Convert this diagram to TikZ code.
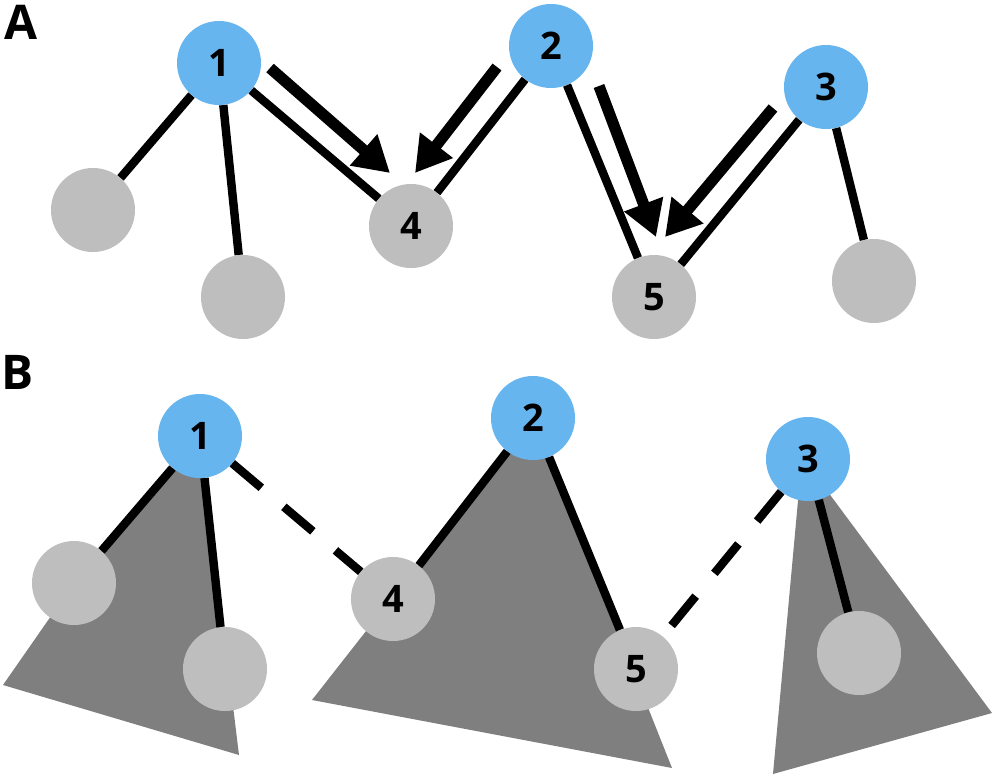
\documentclass[tikz,border=0pt]{standalone}
\usepackage{fontspec}
\setmainfont{Open Sans}
\usetikzlibrary{arrows.meta,backgrounds}
\definecolor{rootblue}{RGB}{103,181,238}
\definecolor{leafgray}{RGB}{190,190,190}
\definecolor{treegray}{RGB}{127,127,127}
\tikzset{
	treenode/.style = {circle, inner sep=0pt, minimum size=2.1cm, font=\fontsize{27}{27}\selectfont\bfseries},
	root/.style = {treenode, fill=rootblue},
	leaf/.style = {treenode, fill=leafgray},
	edge/.style = {line width=6pt},
	link/.style = {edge, dash pattern=on 27pt off 21pt},
	move/.style = {line width=8pt, -{Triangle[length=25pt,width=28pt]}},
	subtree/.style = {fill=treegray},
	panel/.style = {font=\fontsize{34}{34}\selectfont\bfseries}
}

\begin{document}
\begin{tikzpicture}[x=0.025cm, y=-0.025cm]
\useasboundingbox (0,0) rectangle (996,778);

% A
\node [panel] (la) at (21,22) {A};
\node [root] (a1) at (219,63) {1};
\node [root] (a2) at (551,46) {2};
\node [root] (a3) at (826,87) {3};
\node [leaf] (a1l) at (93,210) {};
\node [leaf] (a1r) at (243,297) {};
\node [leaf] (a4) at (411,226) {4};
\node [leaf] (a5) at (654,297) {5};
\node [leaf] (a3r) at (874,281) {};
\draw [edge] (a1) -- (a1l);
\draw [edge] (a1) -- (a1r);
\draw [edge] (a1) -- (a4);
\draw [edge] (a2) -- (a4);
\draw [edge] (a2) -- (a5);
\draw [edge] (a3) -- (a5);
\draw [edge] (a3) -- (a3r);
\coordinate (f14s) at (270,68);  \coordinate (f14e) at (390,173);
\coordinate (f24s) at (497,67);  \coordinate (f24e) at (415,173);
\coordinate (f25s) at (599,86);  \coordinate (f25e) at (656,237);
\coordinate (f35s) at (773,108); \coordinate (f35e) at (665,237);
\draw [move] (f14s) -- (f14e);
\draw [move] (f24s) -- (f24e);
\draw [move] (f25s) -- (f25e);
\draw [move] (f35s) -- (f35e);

% B
\node [panel] (lb) at (18,372) {B};
\node [root] (b1) at (200,436) {1};
\node [root] (b2) at (533,418) {2};
\node [root] (b3) at (808,459) {3};
\node [leaf] (b1l) at (74,583) {};
\node [leaf] (b1r) at (225,669) {};
\node [leaf] (b4) at (393,599) {4};
\node [leaf] (b5) at (636,669) {5};
\node [leaf] (b3r) at (859,653) {};
\begin{scope}[on background layer]
	\fill [subtree] (b1.center) -- (b1l.center) -- (3,685) -- (239,755) -- cycle;
	\fill [subtree] (b2.center) -- (312,700) -- (672,768) -- cycle;
	\fill [subtree] (802,457) -- (773,774) -- (992,713) -- cycle;
\end{scope}
\draw [edge] (b1) -- (b1l);
\draw [edge] (b1) -- (b1r);
\draw [edge] (b2) -- (b4);
\draw [edge] (b2) -- (b5);
\draw [edge] (b3) -- (b3r);
\draw [link] (b1) -- (b4);
\draw [link] (b3) -- (b5);
\end{tikzpicture}
\end{document}
